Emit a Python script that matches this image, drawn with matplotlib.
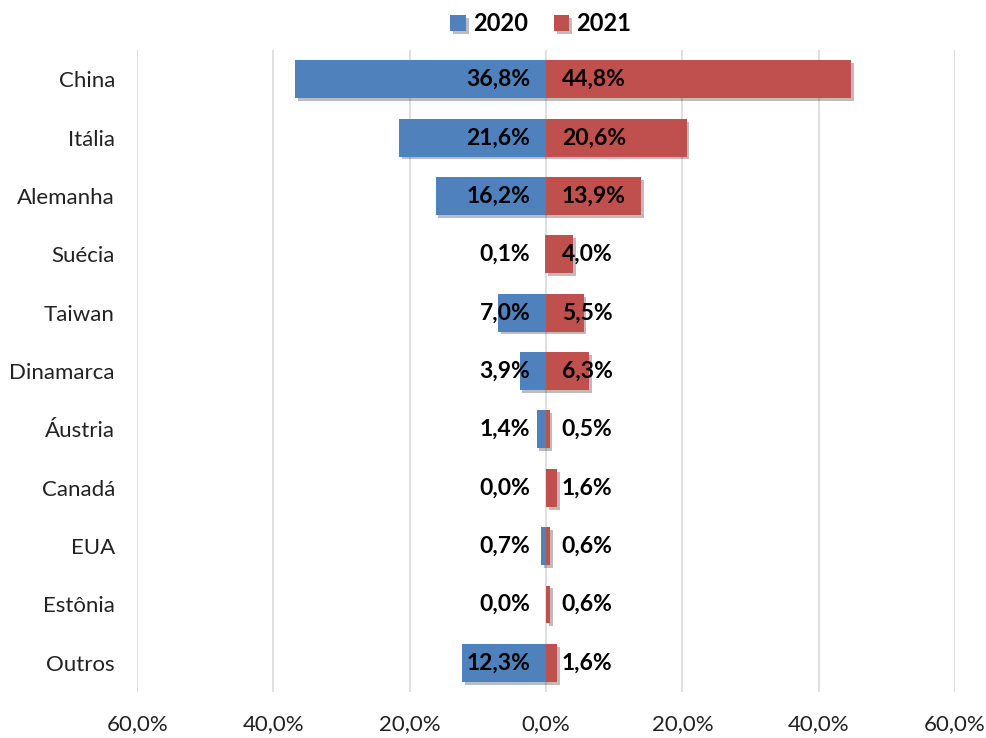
import matplotlib.pyplot as plt
import matplotlib.patheffects as pe
from matplotlib.ticker import FuncFormatter

plt.rcParams['font.family'] = ['Lato', 'DejaVu Sans']

# Dados
paises = ['China', 'Itália', 'Alemanha', 'Suécia', 'Taiwan', 'Dinamarca',
          'Áustria', 'Canadá', 'EUA', 'Estônia', 'Outros']
v2020 = [36.8, 21.6, 16.2, 0.1, 7.0, 3.9, 1.4, 0.0, 0.7, 0.0, 12.3]
v2021 = [44.8, 20.6, 13.9, 4.0, 5.5, 6.3, 0.5, 1.6, 0.6, 0.6, 1.6]

azul = '#4F81BD'
vermelho = '#C0504D'

fig = plt.figure(figsize=(9.87, 7.38), dpi=100)
ax = fig.add_axes([0.139, 0.0623, 0.8286, 0.8697])

y = list(range(len(paises)))
sombra = [pe.SimplePatchShadow(offset=(2, -2), alpha=0.3), pe.Normal()]

b1 = ax.barh(y, [-v for v in v2020], height=0.65, color=azul, label='2020', zorder=3)
b2 = ax.barh(y, v2021, height=0.65, color=vermelho, label='2021', zorder=3)
for b in list(b1) + list(b2):
    b.set_path_effects(sombra)

# Rótulos de dados
for i in y:
    ax.text(-2.3, i, f'{v2020[i]:.1f}%'.replace('.', ','), ha='right', va='center',
            fontsize=16.5, fontweight='bold', color='black', zorder=4)
    ax.text(2.3, i, f'{v2021[i]:.1f}%'.replace('.', ','), ha='left', va='center',
            fontsize=16.5, fontweight='bold', color='black', zorder=4)

# Eixos
ax.set_xlim(-60, 60)
ax.set_ylim(len(paises) - 0.5, -0.5)
ax.set_xticks([-60, -40, -20, 0, 20, 40, 60])
ax.xaxis.set_major_formatter(FuncFormatter(lambda x, p: f'{abs(x):.1f}%'.replace('.', ',')))
ax.set_yticks(y)
ax.set_yticklabels(paises)
ax.tick_params(axis='both', length=0, labelsize=16, colors='#222222')
ax.tick_params(axis='y', pad=16)
ax.tick_params(axis='x', pad=16)
ax.grid(axis='x', color='#D9D9D9', linewidth=1.2, zorder=0)
for s in ax.spines.values():
    s.set_visible(False)

# Legenda
leg = fig.legend(handles=[b1, b2], loc='upper center', bbox_to_anchor=(0.548, 1.012),
                 ncol=2, frameon=False, handlelength=0.65, handleheight=0.65,
                 handletextpad=0.3, columnspacing=1.1,
                 prop={'size': 17, 'weight': 'bold'})

fig.savefig('out.png', dpi=100)
